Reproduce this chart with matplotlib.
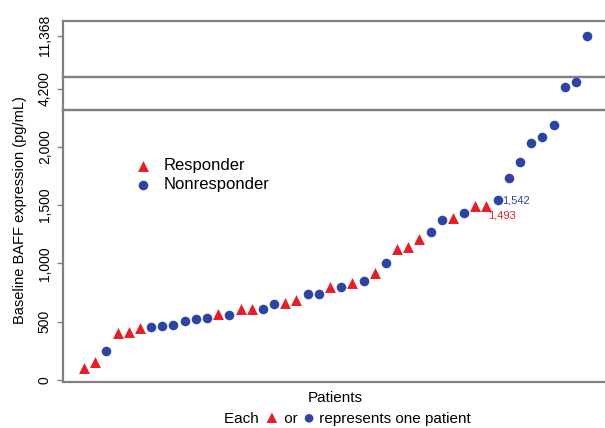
import matplotlib
matplotlib.use("Agg")
import matplotlib.pyplot as plt
from matplotlib.offsetbox import TextArea, HPacker, AnchoredOffsetbox

plt.rcParams['font.family'] = ['Liberation Sans', 'DejaVu Sans']

# ---- data (one value per patient, sorted) ----
baff_values = [100, 157, 251, 400, 414, 443, 457, 463, 469, 503, 526, 529, 563, 555,
               606, 612, 609, 652, 663, 686, 740, 740, 800, 798, 835, 852, 920, 1001,
               1121, 1143, 1209, 1267, 1372, 1387, 1435, 1490, 1493, 1542, 1735, 1867,
               2030, 2082, 2184, 4240, 4390, 11368]
responder = ['R', 'R', 'N', 'R', 'R', 'R', 'N', 'N', 'N', 'N', 'N', 'N', 'R', 'N',
             'R', 'R', 'N', 'N', 'R', 'R', 'N', 'N', 'R', 'N', 'R', 'N', 'R', 'N',
             'R', 'R', 'R', 'N', 'N', 'R', 'N', 'R', 'R', 'N', 'N', 'N',
             'N', 'N', 'N', 'N', 'N', 'N']
main_ticks = [0, 500, 1000, 1500, 2000]
main_ticklabels = ['0', '500', '1,000', '1,500', '2,000']
mid_ticks = [4200]
mid_ticklabels = ['4,200']
top_ticks = [11368]
top_ticklabels = ['11,368']
annot_blue = (38, 1542, '1,542')
annot_red = (37, 1493, '1,493')

RED = '#e61e29'
BLUE = '#2d45a2'
GREY = '#808080'

patients = list(range(1, len(baff_values) + 1))
rx = [p for p, g in zip(patients, responder) if g == 'R']
ry = [v for v, g in zip(baff_values, responder) if g == 'R']
nx = [p for p, g in zip(patients, responder) if g == 'N']
ny = [v for v, g in zip(baff_values, responder) if g == 'N']

W, H = 605, 428
fig = plt.figure(figsize=(W / 100, H / 100), dpi=100)

left = 63 / W
right = 1.0
def band(ytop_px, ybot_px):
    return [left, 1 - ybot_px / H, right - left, (ybot_px - ytop_px) / H]

ax_top = fig.add_axes(band(20.7, 76.7))
ax_mid = fig.add_axes(band(76.7, 110))
ax = fig.add_axes(band(110, 381.7))

xlim = (-0.88, 47.6)
for a, ylim, ticks, labels in [(ax_top, (8450, 12450), top_ticks, top_ticklabels),
                               (ax_mid, (3564, 4564), mid_ticks, mid_ticklabels),
                               (ax, (-15, 2315), main_ticks, main_ticklabels)]:
    a.scatter(rx, ry, marker='^', s=62, color=RED, linewidths=0, zorder=3)
    a.scatter(nx, ny, marker='o', s=48, color=BLUE, linewidths=0, zorder=3)
    a.set_xlim(*xlim)
    a.set_ylim(*ylim)
    a.set_yticks(ticks)
    a.set_yticklabels(labels)
    a.set_xticks([])
    a.tick_params(axis='y', direction='out', length=4, width=1, color=GREY,
                  labelsize=10, labelrotation=90, pad=4)
    for s in ['left', 'top', 'bottom']:
        a.spines[s].set_color(GREY)
        a.spines[s].set_linewidth(1.6)
    a.spines['right'].set_visible(False)
    a.patch.set_alpha(0)
    for lab in a.get_yticklabels():
        lab.set_va('center')

# legend
h1 = ax.scatter([], [], marker='^', s=62, color=RED, linewidths=0)
h2 = ax.scatter([], [], marker='o', s=48, color=BLUE, linewidths=0)
ax.legend([h1, h2], ['Responder', 'Nonresponder'], loc='upper left',
          bbox_to_anchor=(0.133, 0.822), frameon=False, fontsize=12,
          handlelength=1.0, handletextpad=0.7, labelspacing=0.22,
          borderpad=0, borderaxespad=0, scatterpoints=1)

# annotations
ax.annotate(annot_blue[2], xy=(annot_blue[0], annot_blue[1]), xytext=(3.5, 0),
            textcoords='offset points', color=BLUE, fontsize=8, ha='left', va='center')
ax.annotate(annot_red[2], xy=(annot_red[0], annot_red[1]), xytext=(1.5, -7),
            textcoords='offset points', color=RED, fontsize=8, ha='left', va='center')

# labels
fig.text(20 / W, 1 - 210 / H, 'Baseline BAFF expression (pg/mL)', rotation=90,
         ha='center', va='center', fontsize=10.5)
fig.text(335 / W, 1 - 398.5 / H, 'Patients', ha='center', va='center', fontsize=11)

parts = [("Each ", 'black', 11), ("\u25B2", RED, 13), (" or ", 'black', 11),
         ("\u25CF", BLUE, 14.5), (" represents one patient", 'black', 11)]
boxes = [TextArea(t, textprops=dict(color=c, fontsize=fs)) for t, c, fs in parts]
pack = HPacker(children=boxes, align='baseline', pad=0, sep=0)
anch = AnchoredOffsetbox(loc='center', child=pack, bbox_to_anchor=(347 / W, 1 - 417.5 / H),
                         bbox_transform=fig.transFigure, frameon=False, pad=0, borderpad=0)
fig.add_artist(anch)

fig.savefig('out.png', dpi=100)
